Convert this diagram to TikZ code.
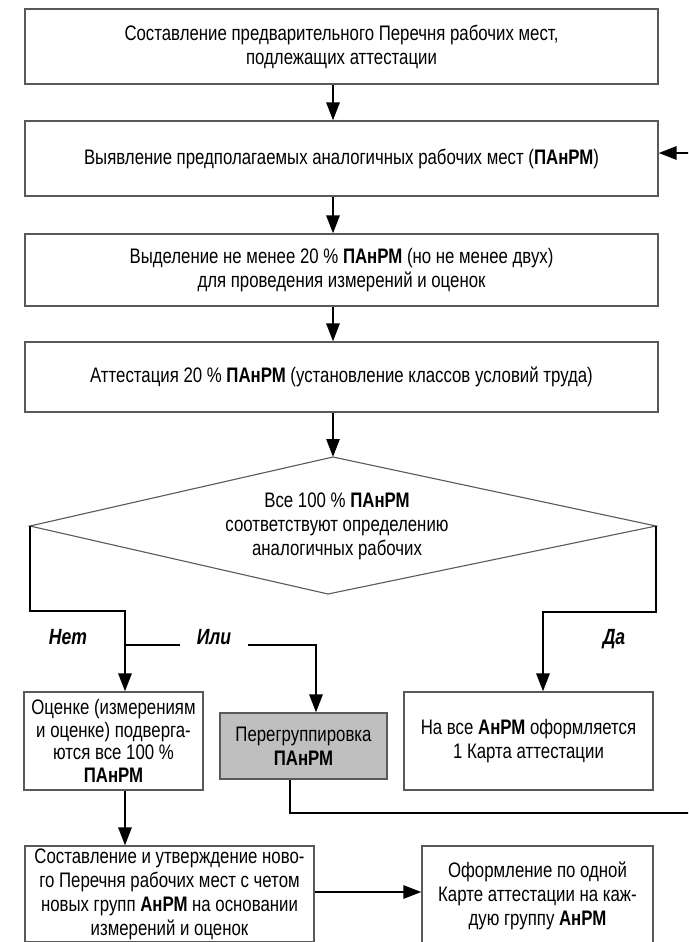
\documentclass[tikz,border=0pt]{standalone}
\usepackage{fontspec}
\setmainfont[FakeStretch=0.8]{Liberation Sans}
\usetikzlibrary{arrows.meta}

\begin{document}
\begin{tikzpicture}[x=1pt,y=-1pt,
  box/.style={draw=black!65, line width=1.1pt, align=center, inner sep=2pt,
    font=\fontsize{21}{24}\selectfont},
  tightbox/.style={box, font=\fontsize{21}{22.5}\selectfont},
  conn/.style={line width=2.8pt, line join=miter},
  arr/.style={conn, -{Triangle[length=18pt,width=13pt]}},
  lbl/.style={font=\fontsize{22}{24}\selectfont\bfseries\itshape}]
\useasboundingbox (0,0) rectangle (688,942);
\clip (0,0) rectangle (688,942);

% main column of steps
\node[box, minimum width=633pt, minimum height=75pt] (b1) at (341.5,46.5)
  {Составление предварительного Перечня рабочих мест,\\подлежащих аттестации};
\node[box, minimum width=633pt, minimum height=75pt] (b2) at (341.5,158.5)
  {Выявление предполагаемых аналогичных рабочих мест (\textbf{ПАнРМ})};
\node[box, minimum width=633pt, minimum height=72pt] (b3) at (341.5,270)
  {Выделение не менее 20 \% \textbf{ПАнРМ} (но не менее двух)\\для проведения измерений и оценок};
\node[box, minimum width=633pt, minimum height=70pt] (b4) at (341.5,377)
  {Аттестация 20 \% \textbf{ПАнРМ} (установление классов условий труда)};

% decision
\coordinate (dt) at (333,457);
\coordinate (dl) at (30,526);
\coordinate (dr) at (656,526);
\coordinate (db) at (328,594);
\draw[draw=black!65, line width=1.1pt] (dt) -- (dr) -- (db) -- (dl) -- cycle;
\node[align=center, font=\fontsize{21}{24}\selectfont] (dq) at (337,526)
  {Все 100 \% \textbf{ПАнРМ}\\соответствуют определению\\аналогичных рабочих};

% outcomes
\node[tightbox, minimum width=179pt, minimum height=98pt] (est) at (113.5,741)
  {Оценке (измерениям\\и оценке) подверга-\\ются все 100 \%\\\textbf{ПАнРМ}};
\node[box, fill=black!25, minimum width=167pt, minimum height=66pt] (reg) at (303.5,746)
  {Перегруппировка\\\textbf{ПАнРМ}};
\node[box, minimum width=249pt, minimum height=98pt] (vse) at (528.5,741)
  {На все \textbf{АнРМ} оформляется\\1 Карта аттестации};
\node[box, minimum width=289pt, minimum height=96pt] (nov) at (169.5,894)
  {Составление и утверждение ново-\\го Перечня рабочих мест с четом\\новых групп \textbf{АнРМ} на основании\\измерений и оценок};
\node[box, minimum width=231pt, minimum height=100pt] (kar) at (537.5,896)
  {Оформление по одной\\Карте аттестации на каж-\\дую группу \textbf{АнРМ}};

% branch labels
\node[lbl] (net) at (68,637) {Нет};
\node[lbl] (ili) at (214,637) {Или};
\node[lbl] (da) at (614,639) {Да};

% connectors
\coordinate (ax) at (333,0);
\draw[arr] (b1.south -| ax) -- (b2.north -| ax);
\draw[arr] (b2.south -| ax) -- (b3.north -| ax);
\draw[arr] (b3.south -| ax) -- (b4.north -| ax);
\draw[arr] (b4.south -| ax) -- (dt);

\coordinate (nk) at (125,611);
\draw[arr] (dl) |- (nk) -- (est.north -| nk);
\coordinate (jn) at (125,645);
\coordinate (ilL) at (180,645);
\coordinate (ilR) at (248,645);
\coordinate (rk) at (316,645);
\draw[conn] (jn) -- (ilL);
\draw[arr] (ilR) -- (rk) -- (reg.north -| rk);

\coordinate (dk) at (543,612);
\draw[arr] (dr) |- (dk) -- (vse.north -| dk);

\draw[arr] (est.south -| nk) -- (nov.north -| nk);
\coordinate (hy) at (0,892);
\draw[arr] (nov.east |- hy) -- (kar.west |- hy);

% return loop from regrouping back to step two
\coordinate (lp) at (290,813);
\coordinate (lpr) at (720,813);
\coordinate (by) at (0,153);
\draw[arr] (reg.south -| lp) -- (lp) -- (lpr) |- (b2.east |- by);
\end{tikzpicture}
\end{document}
